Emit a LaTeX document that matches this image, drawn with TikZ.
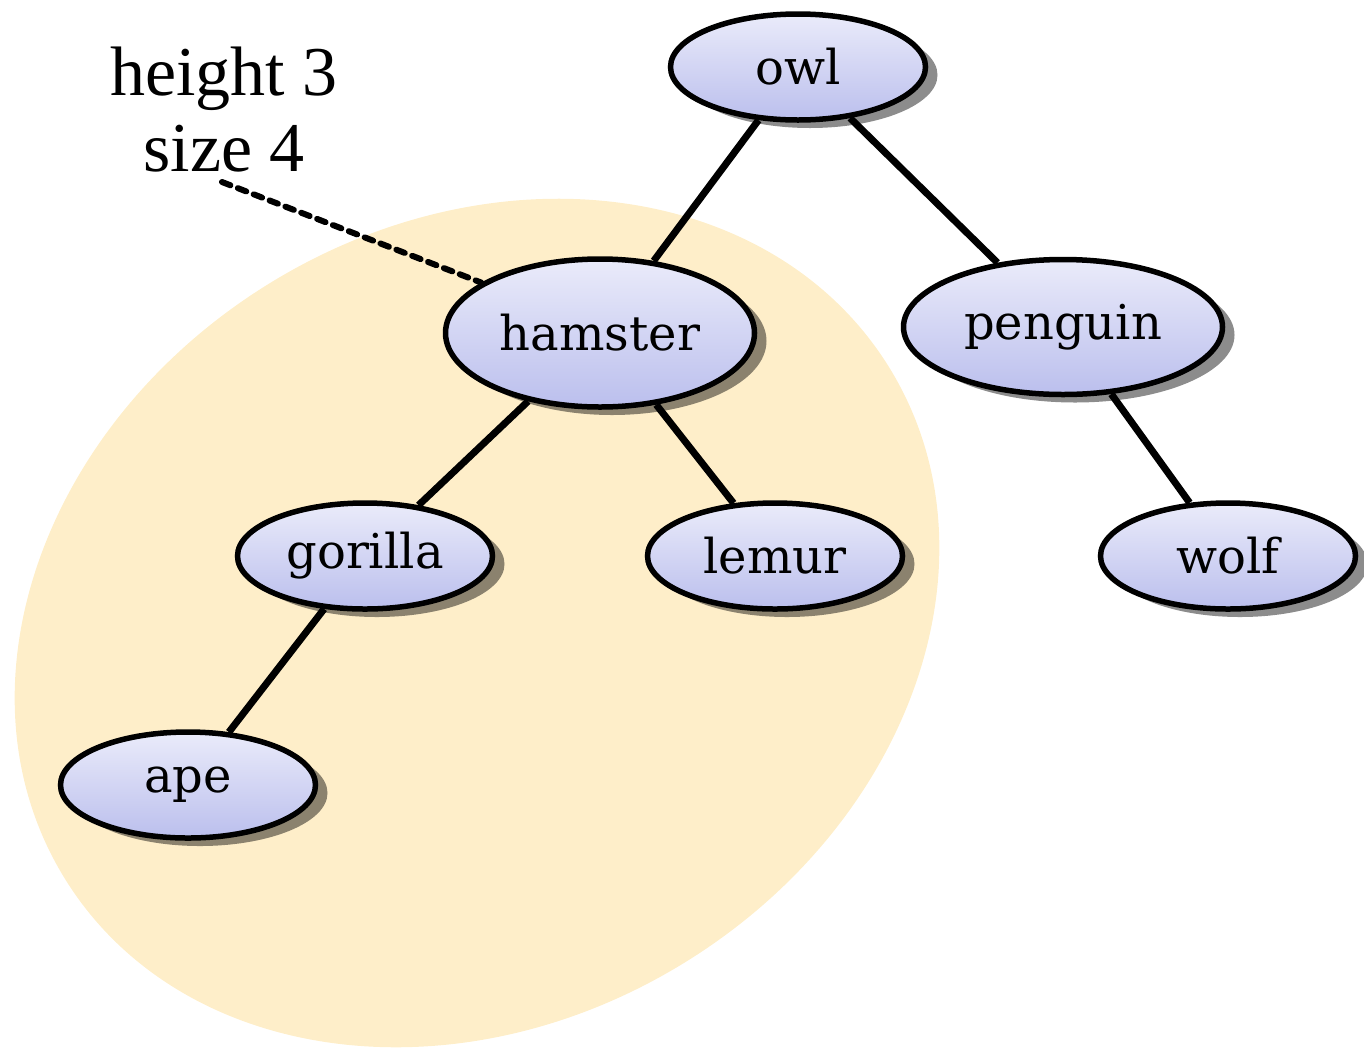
\documentclass[tikz,border=0pt]{standalone}
\usepackage{fontspec}
\setmainfont{Liberation Serif}
\newfontfamily\nodefont{DejaVu Serif}
\usetikzlibrary{shapes.geometric,shadows}
\pgfdeclarelayer{bg}
\pgfdeclarelayer{edgelayer}
\pgfsetlayers{bg,edgelayer,main}
\definecolor{hilite}{RGB}{254,238,201}
\definecolor{ntop}{RGB}{234,235,250}
\definecolor{nbot}{RGB}{187,191,237}
\begin{document}
\begin{tikzpicture}[x=1pt,y=-1pt,
  animal/.style={ellipse, draw=black, line width=5.5pt, top color=ntop, bottom color=nbot,
    inner sep=0pt, minimum width=255pt, minimum height=106pt,
    font=\nodefont\fontsize{48}{54}\selectfont,
    drop shadow={shadow xshift=12pt, shadow yshift=-8pt, opacity=0.45, fill=black}},
  treeedge/.style={line width=7pt, black},
  pointer/.style={line width=6pt, black, dash pattern=on 9pt off 8pt, line cap=round}]
\useasboundingbox (0,0) rectangle (1364,1050);
\begin{pgfonlayer}{bg}
  \fill[hilite, rotate around={32:(477,623)}] (477,623) ellipse [x radius=485pt, y radius=398pt];
\end{pgfonlayer}

\node[animal] (owl) at (798,67) {owl};
\node[animal, minimum width=309pt, minimum height=148pt] (hamster) at (600,333) {hamster};
\node[animal, minimum width=319pt, minimum height=135pt] (penguin) at (1063,327) {penguin};
\node[animal] (gorilla) at (365,556) {gorilla};
\node[animal] (lemur) at (775,556) {lemur};
\node[animal] (wolf) at (1228,556) {wolf};
\node[animal] (ape) at (188,785) {ape};

\node[font=\fontsize{70}{76}\selectfont, align=center, inner sep=0pt] (lbl) at (224,110) {height 3\\size 4};
\coordinate (dstart) at (222,182);

\begin{pgfonlayer}{edgelayer}
  \draw[treeedge] (owl) -- (hamster);
  \draw[treeedge] (owl) -- (penguin);
  \draw[treeedge] (hamster) -- (gorilla);
  \draw[treeedge] (hamster) -- (lemur);
  \draw[treeedge] (penguin) -- (wolf);
  \draw[treeedge] (gorilla) -- (ape);
\end{pgfonlayer}
\draw[pointer] (dstart) -- (hamster.157);
\end{tikzpicture}
\end{document}
